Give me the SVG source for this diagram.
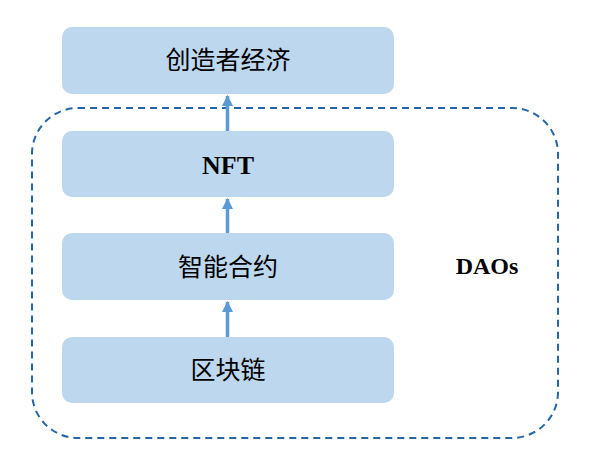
<svg xmlns="http://www.w3.org/2000/svg" width="600" height="461" viewBox="0 0 600 461">
<style>
.box{fill:#bdd7ee;}
.cn{font-family:"Noto Sans CJK SC","Noto Sans",sans-serif;font-size:25px;fill:#000;text-anchor:middle;}
.en{font-family:"Liberation Serif","Times New Roman",serif;font-weight:bold;fill:#000;text-anchor:middle;}
.arrow{stroke:#5b9bd5;stroke-width:3.5;fill:none;}
</style>
<defs>
<marker id="ah" markerWidth="11" markerHeight="11" viewBox="0 0 10 10" refX="9" refY="5" orient="auto" markerUnits="userSpaceOnUse">
<path d="M0,0 L10,5 L0,10 z" fill="#5b9bd5"/>
</marker>
</defs>
<rect width="600" height="461" fill="#ffffff"/>
<g id="daos">
<rect x="32" y="108" width="526" height="330" rx="46" ry="46" fill="none" stroke="#2465a8" stroke-width="2" stroke-dasharray="7,5"/>
<text class="en" x="487" y="274" font-size="24">DAOs</text>
</g>
<g id="creator">
<rect class="box" x="62" y="27" width="332" height="67" rx="10"/>
<text class="cn" x="228" y="69">创造者经济</text>
</g>
<g id="nft">
<rect class="box" x="62" y="131" width="332" height="66" rx="10"/>
<text class="en" x="228" y="174" font-size="26">NFT</text>
</g>
<g id="contract">
<rect class="box" x="62" y="233" width="332" height="67" rx="10"/>
<text class="cn" x="228" y="276">智能合约</text>
</g>
<g id="blockchain">
<rect class="box" x="62" y="337" width="332" height="66" rx="10"/>
<text class="cn" x="228" y="379">区块链</text>
</g>
<g id="connectors">
<line class="arrow" x1="227.5" y1="337" x2="227.5" y2="302" marker-end="url(#ah)"/>
<line class="arrow" x1="227.5" y1="233" x2="227.5" y2="199" marker-end="url(#ah)"/>
<line class="arrow" x1="227.5" y1="131" x2="227.5" y2="96" marker-end="url(#ah)"/>
</g>
</svg>
